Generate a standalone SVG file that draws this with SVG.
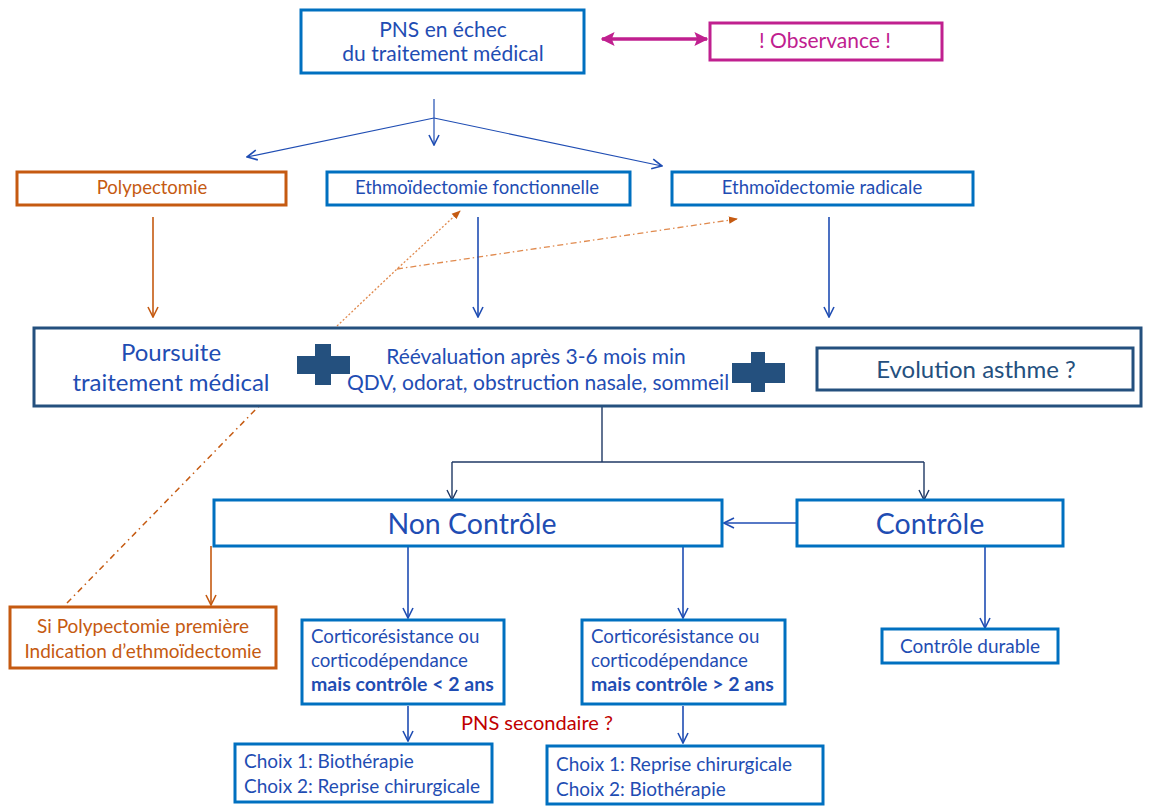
<svg xmlns="http://www.w3.org/2000/svg" width="1171" height="808" viewBox="0 0 1171 808">
<style>
text{font-family:Lato,"Liberation Sans",sans-serif;}
.bb{fill:#fff;stroke:#0070C0;stroke-width:3;}
.ob{fill:#fff;stroke:#C55A11;stroke-width:3;}
.mb{fill:#fff;stroke:#C0208F;stroke-width:3;}
.nb{fill:#fff;stroke:#24507E;stroke-width:3;}
.tb{fill:#1F4DB3;}
.to{fill:#C55A11;}
.tm{fill:#C0208F;}
.tn{fill:#24507E;}
.c{text-anchor:middle;}
.ab{fill:none;stroke:#1F4DB3;stroke-width:1.6;marker-end:url(#ahB);}
.at{fill:none;stroke:#1F4DB3;stroke-width:1.2;marker-end:url(#ahB);}
.an{fill:none;stroke:#1F3864;stroke-width:1.4;}
.ao{fill:none;stroke:#C55A11;stroke-width:1.6;marker-end:url(#ahO);}
</style>
<defs>
<marker id="ahB" markerUnits="userSpaceOnUse" viewBox="0 0 12 12" refX="11" refY="6" markerWidth="12" markerHeight="12" orient="auto"><path d="M1,1 L11,6 L1,11" fill="none" stroke="#1F4DB3" stroke-width="1.6"/></marker>
<marker id="ahN" markerUnits="userSpaceOnUse" viewBox="0 0 12 12" refX="11" refY="6" markerWidth="12" markerHeight="12" orient="auto"><path d="M1,1 L11,6 L1,11" fill="none" stroke="#1F3864" stroke-width="1.4"/></marker>
<marker id="ahO" markerUnits="userSpaceOnUse" viewBox="0 0 12 12" refX="11" refY="6" markerWidth="12" markerHeight="12" orient="auto"><path d="M1,1 L11,6 L1,11" fill="none" stroke="#C55A11" stroke-width="1.6"/></marker>
<marker id="ahOf" markerUnits="userSpaceOnUse" viewBox="0 0 10 10" refX="9" refY="5" markerWidth="9" markerHeight="9" orient="auto"><path d="M0,1 L10,5 L0,9 Z" fill="#C55A11"/></marker>
<marker id="ahM" markerUnits="userSpaceOnUse" viewBox="0 0 10 10" refX="9" refY="5" markerWidth="14" markerHeight="14" orient="auto"><path d="M0,0 L10,5 L0,10 L2,5 Z" fill="#C0208F"/></marker>
<marker id="ahMs" markerUnits="userSpaceOnUse" viewBox="0 0 10 10" refX="1" refY="5" markerWidth="14" markerHeight="14" orient="auto"><path d="M10,0 L0,5 L10,10 L8,5 Z" fill="#C0208F"/></marker>
</defs>

<g id="connectors">
<path d="M67,603 L337,326" fill="none" stroke="#C55A11" stroke-width="1.5" stroke-dasharray="6 4 1.5 4"/>
<path d="M337,326 L397,269 L460,211" fill="none" stroke="#E08A4E" stroke-width="1.3" stroke-dasharray="2 2" marker-end="url(#ahOf)"/>
<path d="M397,269 L737,219" fill="none" stroke="#E08A4E" stroke-width="1.3" stroke-dasharray="6 3 1.5 3" marker-end="url(#ahOf)"/>
<path d="M602,39 L707,39" fill="none" stroke="#C0208F" stroke-width="3.5" marker-start="url(#ahMs)" marker-end="url(#ahM)"/>
<path d="M434,99 L434,145" class="at"/>
<path d="M434,118 L247,157" class="at"/>
<path d="M434,118 L662,166" class="at"/>
<path d="M153,217 L153,317" class="ao"/>
<path d="M478,217 L478,317" class="ab"/>
<path d="M829,217 L829,317" class="ab"/>
<path d="M602,406 L602,462" class="an"/>
<path d="M452,462 L924,462" class="an"/>
<path d="M452,462 L452,500" class="an" marker-end="url(#ahN)"/>
<path d="M924,462 L924,500" class="an" marker-end="url(#ahN)"/>
<path d="M796,523 L724,523" class="ab"/>
<path d="M211,546 L211,605" class="ao"/>
<path d="M408,546 L408,618" class="ab"/>
<path d="M683,546 L683,618" class="ab"/>
<path d="M985,546 L985,628" class="ab"/>
<path d="M408,706 L408,741" class="ab"/>
<path d="M683,706 L683,743" class="ab"/>
</g>

<g id="n-pns">
<rect x="301" y="10" width="283" height="63" class="bb"/>
<text x="443" y="37" font-size="21" class="tb c">PNS en échec</text>
<text x="443" y="61" font-size="21" class="tb c">du traitement médical</text>
</g>
<g id="n-observance">
<rect x="710" y="23" width="232" height="37" class="mb"/>
<text x="825" y="48" font-size="21" class="tm c">! Observance !</text>
</g>
<g id="n-polypectomie">
<rect x="17" y="172" width="269" height="33" class="ob"/>
<text x="152" y="194" font-size="18.5" class="to c">Polypectomie</text>
</g>
<g id="n-ethmo-f">
<rect x="327" y="172" width="303" height="33" class="bb"/>
<text x="477" y="194" font-size="18.5" class="tb c">Ethmoïdectomie fonctionnelle</text>
</g>
<g id="n-ethmo-r">
<rect x="672" y="172" width="301" height="33" class="bb"/>
<text x="822" y="194" font-size="18.5" class="tb c">Ethmoïdectomie radicale</text>
</g>
<g id="n-poursuite">
<rect x="34" y="328" width="1107" height="78" class="nb"/>
<text x="171" y="361" font-size="24" class="tb c">Poursuite</text>
<text x="171" y="391" font-size="24" class="tb c">traitement médical</text>
<path d="M297,356 H315 V344 H331 V356 H350 V374 H331 V385 H315 V374 H297 Z" fill="#24507E"/>
<text x="536" y="364" font-size="21" class="tb c">Réévaluation après 3-6 mois min</text>
<text x="538" y="390" font-size="21" class="tb c">QDV, odorat, obstruction nasale, sommeil</text>
<path d="M732,363 H751 V352 H765 V363 H785 V383 H765 V392 H751 V383 H732 Z" fill="#24507E"/>
<rect x="817" y="348" width="316" height="42" class="nb"/>
<text x="976" y="378" font-size="24" class="tn c">Evolution asthme ?</text>
</g>
<g id="n-noncontrole">
<rect x="214" y="500" width="508" height="46" class="bb"/>
<text x="472" y="534" font-size="28.5" class="tb c">Non Contrôle</text>
</g>
<g id="n-controle">
<rect x="797" y="500" width="266" height="46" class="bb"/>
<text x="930" y="534" font-size="28.5" class="tb c">Contrôle</text>
</g>
<g id="n-si-polypectomie">
<rect x="10" y="607" width="266" height="61" class="ob"/>
<text x="143" y="633" font-size="19" class="to c">Si Polypectomie première</text>
<text x="143" y="658" font-size="19" class="to c">Indication d’ethmoïdectomie</text>
</g>
<g id="n-cortico-1">
<rect x="302" y="620" width="202" height="84" class="bb"/>
<text x="311" y="643" font-size="18.7" class="tb">Corticorésistance ou</text>
<text x="311" y="667" font-size="18.7" class="tb">corticodépendance</text>
<text x="311" y="691" font-size="19.5" font-weight="bold" class="tb">mais contrôle &lt; 2 ans</text>
</g>
<g id="n-cortico-2">
<rect x="582" y="620" width="203" height="84" class="bb"/>
<text x="591" y="643" font-size="18.7" class="tb">Corticorésistance ou</text>
<text x="591" y="667" font-size="18.7" class="tb">corticodépendance</text>
<text x="591" y="691" font-size="19.5" font-weight="bold" class="tb">mais contrôle &gt; 2 ans</text>
</g>
<g id="n-controle-durable">
<rect x="882" y="629" width="176" height="34" class="bb"/>
<text x="970" y="653" font-size="19" class="tb c">Contrôle durable</text>
</g>
<g id="n-choix-1">
<rect x="235" y="744" width="257" height="58" class="bb"/>
<text x="244" y="768" font-size="19" class="tb">Choix 1: Biothérapie</text>
<text x="244" y="793" font-size="19" class="tb">Choix 2: Reprise chirurgicale</text>
</g>
<g id="n-choix-2">
<rect x="547" y="746" width="276" height="58" class="bb"/>
<text x="556" y="771" font-size="19" class="tb">Choix 1: Reprise chirurgicale</text>
<text x="556" y="796" font-size="19" class="tb">Choix 2: Biothérapie</text>
</g>
<g id="l-pns-secondaire">
<text x="537" y="730" font-size="20" fill="#C00000" class="c">PNS secondaire ?</text>
</g>
</svg>
